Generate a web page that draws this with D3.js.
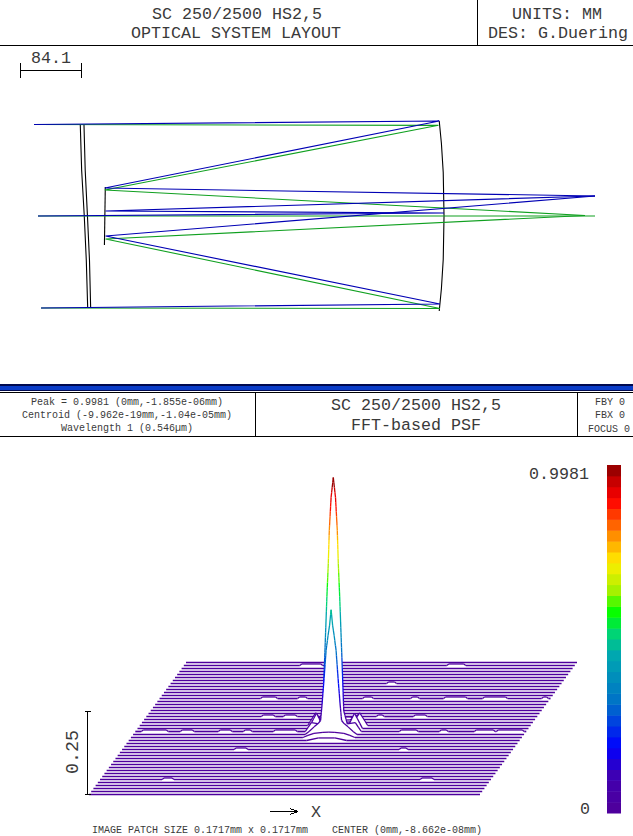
<!DOCTYPE html>
<html>
<head>
<meta charset="utf-8">
<script src="https://cdn.jsdelivr.net/npm/d3@7"></script>
<style>
body { margin: 0; background: #fff; }
text { font-family: "Liberation Mono", monospace; fill: #3a3a3a; }
</style>
</head>
<body>
<div id="canvas"></div>
<script>
"use strict"

/* ---- layout rays, in mm, [z, y] ---- */
let scaleBarMm = 84.1
let blueRays = [
    [[19.3,126.1],[578,131],[117,38.6],[792.8,27.6]],
    [[24.8,0],[584.6,4.1],[118,6.9],[792.8,27.6]],
    [[29,-126.8],[579,-121.3],[118,-27.6],[792.8,27.6]]
]
let greenRays = [
    [[19.3,126.1],[577,125],[117,35.8],[779,0.7]],
    [[24.8,0],[584.6,0],[118,0],[792.8,0]],
    [[29,-126.8],[579,-127.5],[118,-31.7],[779,0.7]]
]
/* corrector plate (2 faces), secondary, primary */
let surfaces = [
    [[83.1,126],[85,63],[88.6,0],[91.4,-61],[93.3,-126]],
    [[88.2,126],[89.9,63],[93,0],[95.8,-61],[97.4,-126]],
    [[117.6,40],[116.4,-40]],
    [[578,131],[581,100],[583.5,60],[584.6,0],[583.5,-60],[581,-100],[578,-131]]
]

/* ---- PSF surface: rows of height profiles, u in patch columns ---- */
let peakValue = 0.9981
let rowCount = 45
let peakRows = [18, 19, 20, 21, 22, 23, 24, 25]
let peakU = [
    [-20,-8,8,20],
    [-26,-21,-15,-6,0,6,15,21,26],
    [-26,-22,-17,-13,-10.5,-9,-7,-5,-3,-1.5,0,1.5,3,5,7,9,10.5,13,17,22,26],
    [-28,-22,-14,-10.5,-9.5,-8.6,-6.4,-5,-4,-2.2,0,2.2,4,5,6.4,8.6,9.5,10.5,14,22,28],
    [-27,-19,-14,14,19,27],
    [-30,-22,-16,0,16,22,30],
    [-26,-18,-10,10,18,26],
    [-16,-8,8,16]
]
let peakH = [
    [0,0.01,0.01,0],
    [0,0.008,0.016,0.02,0.021,0.02,0.016,0.008,0],
    [0,0.012,0.03,0.043,0.055,0.12,0.22,0.33,0.39,0.43,0.49,0.43,0.39,0.33,0.22,0.12,0.055,0.043,0.03,0.012,0],
    [0,0.035,0.03,0.08,0.19,0.29,0.53,0.66,0.79,0.92,0.9981,0.92,0.79,0.66,0.53,0.29,0.19,0.08,0.03,0.035,0],
    [0,0.06,0.02,0.02,0.06,0],
    [0,0.05,0.015,0.01,0.015,0.05,0],
    [0,0.03,0.01,0.01,0.03,0],
    [0,0.01,0.01,0]
]
/* little humps on the otherwise flat rows: row, from, to */
let bumpRow = [43,43,37,32,32,32,32,32,32,32,26,26,26,26,21,21,21,21,21,21,21,21,21,15,15,5,5]
let bumpFrom = [-80,67,20,-95,-58,7,55,88,127,186,-81,-59,34,71,-190,-151,-113,-88,-58,68,108,143,165,-84,81,-134,124]
let bumpTo = [-61,82,26,-82,-52,14,60,108,148,189,-71,-49,38,81,-167,-141,-103,-83,-38,83,113,160,189,-74,86,-126,134]
let bumpH = 0.006

/* colour bar stops, value fraction -> colour */
let colourT = [0, 0.105, 0.19, 0.315, 0.455, 0.51, 0.575, 0.645, 0.72, 0.785, 0.9, 0.975, 1]
let colourC = ["#50009a","#4000b0","#0000ff","#0070c8","#00a8b0","#00d080","#00ff00","#b0f000","#ffee00","#ffa000","#ff0000","#b00000","#7a0000"]
let colourLevels = 32

let drawing = d3.select("#canvas")
    .append("svg")
    .attr("width", 633)
    .attr("height", 836)
    .style("display", "block")

function label(x, y, str, size, anchor) {
    return drawing.append("text")
        .attr("x", x)
        .attr("y", y)
        .attr("font-size", size)
        .attr("text-anchor", anchor || "middle")
        .text(str)
}

function rule(x1, y1, x2, y2, colour) {
    drawing.append("line")
        .attr("x1", x1).attr("y1", y1)
        .attr("x2", x2).attr("y2", y2)
        .attr("stroke", colour || "#000")
        .attr("stroke-width", 1)
        .attr("shape-rendering", "crispEdges")
}

/* ---- top title block ---- */
rule(0, 45.5, 633, 45.5)
rule(477.5, 0, 477.5, 45)
label(237, 19, "SC 250/2500 HS2,5", 16.67)
label(236, 38, "OPTICAL SYSTEM LAYOUT", 16.67)
label(557, 19, "UNITS: MM", 16.67)
label(558, 38, "DES: G.Duering", 16.67)

/* ---- layout ---- */
let zScale = d3.scaleLinear().domain([0, scaleBarMm]).range([20, 81])
let rScale = d3.scaleLinear().domain([0, scaleBarMm]).range([216, 155])
let rayLine = d3.line().x(d => zScale(d[0])).y(d => rScale(d[1]))

label(51, 63, scaleBarMm.toFixed(1), 16.67)
rule(zScale(0) + 0.5, 63, zScale(0) + 0.5, 78)
rule(zScale(scaleBarMm) + 0.5, 63, zScale(scaleBarMm) + 0.5, 78)
rule(zScale(0), 70.5, zScale(scaleBarMm), 70.5)

function drawPaths(list, colour) {
    drawing.append("g")
        .selectAll("path")
        .data(list)
        .join("path")
        .attr("d", rayLine)
        .attr("fill", "none")
        .attr("stroke", colour)
        .attr("stroke-width", 1.1)
}
drawPaths(surfaces, "#000")
drawPaths(greenRays, "#10a020")
drawPaths(blueRays, "#0000b4")

/* ---- double band between the two parts ---- */
drawing.append("rect").attr("x", 0).attr("y", 384).attr("width", 633).attr("height", 7).attr("fill", "#000a50")
drawing.append("rect").attr("x", 0).attr("y", 386).attr("width", 633).attr("height", 4).attr("fill", "#0a3cc8")
rule(0, 392.5, 633, 392.5)
rule(0, 436.5, 633, 436.5)
rule(255.5, 393, 255.5, 436)
rule(577.5, 393, 577.5, 436)

label(127, 405, "Peak = 0.9981 (0mm,-1.855e-06mm)", 10)
label(127, 418, "Centroid (-9.962e-19mm,-1.04e-05mm)", 10)
label(127, 431, "Wavelength 1 (0.546\u00b5m)", 10)
label(416, 410, "SC 250/2500 HS2,5", 16.67)
label(416, 430, "FFT-based PSF", 16.67)
label(610, 405, "FBY 0", 10)
label(610, 418, "FBX 0", 10)
label(609, 432, "FOCUS 0", 10)

/* ---- PSF surface, painter style back to front ---- */
let valueToColour = d3.scaleLinear().domain(colourT).range(colourC)
let levelOf = d3.scaleQuantize().domain([0, peakValue]).range(d3.range(colourLevels))
let colourOf = v => valueToColour((levelOf(v) + 0.5) / colourLevels)

let uMin = -198, uMax = 193
let rowY = d3.scaleLinear().domain([0, rowCount - 1]).range([794, 662])
let rowLeft = d3.scaleLinear().domain([0, rowCount - 1]).range([89, 186])
let heightPx = d3.scaleLinear().domain([0, peakValue]).range([0, 254])

function rowPoints(r) {
    let pts = [[uMin, 0], [uMax, 0]]
    bumpRow.forEach((row, i) => {
        if (row === r) {
            pts.push([bumpFrom[i] - 2, 0], [bumpFrom[i], bumpH], [bumpTo[i], bumpH], [bumpTo[i] + 2, 0])
        }
    })
    let p = peakRows.indexOf(r)
    if (p >= 0) peakU[p].forEach((u, i) => pts.push([u, peakH[p][i]]))
    return pts.sort((a, b) => a[0] - b[0])
}

let surface = drawing.append("g")
d3.range(rowCount - 1, -1, -1).forEach(r => {
    let uToX = d3.scaleLinear().domain([uMin, uMax]).range([rowLeft(r), rowLeft(r) + 391])
    let base = Math.round(rowY(r)) + 0.5
    let pts = rowPoints(r)

    surface.append("path")
        .attr("d", d3.area().x(d => uToX(d[0])).y0(base).y1(d => base - heightPx(d[1]))(pts))
        .attr("fill", "#fff")

    /* one piece per colour level, so the wall goes through the colour bands */
    let rowG = surface.append("g").attr("fill", "none")
    d3.pairs(pts).forEach(([a, b]) => {
        let steps = Math.max(1, Math.ceil(Math.abs(b[1] - a[1]) * colourLevels * 1.5))
        d3.range(steps).forEach(s => {
            let u0 = a[0] + (b[0] - a[0]) * s / steps, u1 = a[0] + (b[0] - a[0]) * (s + 1) / steps
            let h0 = a[1] + (b[1] - a[1]) * s / steps, h1 = a[1] + (b[1] - a[1]) * (s + 1) / steps
            rowG.append("line")
                .attr("x1", uToX(u0)).attr("y1", base - heightPx(h0))
                .attr("x2", uToX(u1)).attr("y2", base - heightPx(h1))
                .attr("stroke", colourOf((h0 + h1) / 2))
                .attr("stroke-width", a[1] === 0 && b[1] === 0 ? 1.7 : 1.3)
        })
    })
})

/* ---- colour bar ---- */
let barY = d3.scaleLinear().domain([0, colourLevels]).range([813, 465])
drawing.append("g")
    .selectAll("rect")
    .data(d3.range(colourLevels))
    .join("rect")
    .attr("x", 607)
    .attr("y", d => barY(d + 1))
    .attr("width", 14)
    .attr("height", d => barY(d) - barY(d + 1) + 0.5)
    .attr("fill", d => valueToColour((d + 0.5) / colourLevels))
label(559, 479, "0.9981", 16.67)
label(585, 814, "0", 16.67)

/* ---- 0.25 height bar ---- */
let barValue = d3.scaleLinear().domain([0, 0.25]).range([794, 711])
rule(87.5, barValue(0.25), 87.5, barValue(0))
rule(85, barValue(0.25) + 0.5, 91, barValue(0.25) + 0.5)
rule(85, barValue(0) + 0.5, 91, barValue(0) + 0.5)
drawing.append("text")
    .attr("transform", "translate(78,752) rotate(-90)")
    .attr("font-size", 18.3)
    .attr("text-anchor", "middle")
    .text("0.25")

/* ---- X arrow and footer ---- */
rule(270, 811.5, 298, 811.5)
rule(290, 808.5, 298, 811.5)
rule(290, 814.5, 298, 811.5)
label(316, 817, "X", 16.67)
label(92, 833, "IMAGE PATCH SIZE 0.1717mm x 0.1717mm", 10, "start")
label(332, 833, "CENTER (0mm,-8.662e-08mm)", 10, "start")
</script>
</body>
</html>
